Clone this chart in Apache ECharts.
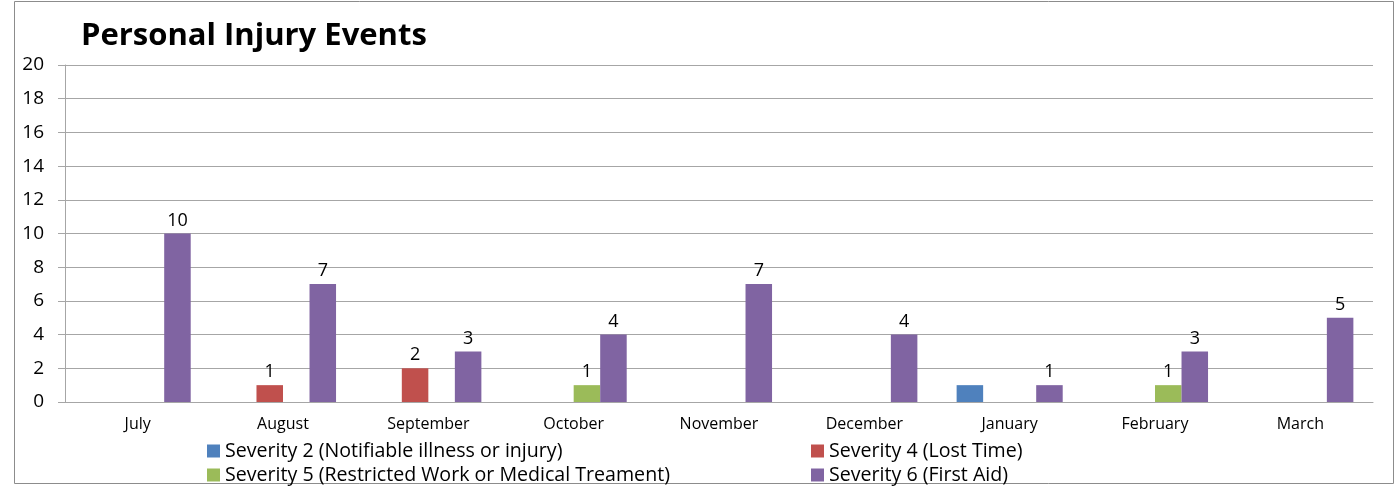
<!DOCTYPE html>
<html>
<head>
<meta charset="utf-8">
<script src="https://cdn.jsdelivr.net/npm/echarts@6/dist/echarts.min.js"></script>
<style>html,body{margin:0;padding:0;background:#fff}#c{width:1395px;height:486px}</style>
</head>
<body>
<div id="c"></div>
<script>
const months = ['July','August','September','October','November','December','January','February','March'];
const seriesNames = ['Severity 2 (Notifiable illness or injury)','Severity 4 (Lost Time)','Severity 5 (Restricted Work or Medical Treament)','Severity 6 (First Aid)'];
const sev2 = [null,null,null,null,null,null,1,null,null];
const sev4 = [null,1,2,null,null,null,null,null,null];
const sev5 = [null,null,null,1,null,null,null,1,null];
const sev6 = [10,7,3,4,7,4,1,3,5];
const yTicks = {min:0,max:20,interval:2};
const colors = ['#4F81BD','#C0504D','#9BBB59','#8064A2'];
const FONT = '"Open Sans", "Noto Sans", sans-serif';

const chart = echarts.init(document.getElementById('c'));
function mk(name, data, color, showLabel){
  return {
    name, type:'bar', data, barGap:'0%', barCategoryGap:'27%',
    itemStyle:{color},
    label:{show:showLabel, position:'top', color:'#000', fontSize:18, fontFamily:FONT, distance:4},
    animation:false
  };
}
function lg(name, left, top){
  return {data:[name], left, top, itemWidth:13, itemHeight:13, icon:'rect',
    textStyle:{fontFamily:FONT, fontSize:19.6, color:'#000'}};
}
chart.setOption({
  animation:false,
  title:{text:'Personal Injury Events', left:76, top:16,
    textStyle:{fontFamily:FONT, fontWeight:'bold', fontSize:31, color:'#000'}},
  graphic:[{type:'rect', shape:{x:14.5,y:1.5,width:1379,height:482},
    style:{fill:'none', stroke:'#8c8c8c', lineWidth:1}, silent:true}],
  legend:[
    lg(seriesNames[0], 202, 436),
    lg(seriesNames[2], 202, 460),
    lg(seriesNames[1], 806, 436),
    lg(seriesNames[3], 806, 460)
  ],
  grid:{left:65, right:22, top:65, bottom:84, containLabel:false},
  xAxis:{type:'category', data:months,
    axisLine:{lineStyle:{color:'#a6a6a6'}}, axisTick:{show:false},
    axisLabel:{fontFamily:FONT, fontSize:16, color:'#000', margin:14}},
  yAxis:{type:'value', min:yTicks.min, max:yTicks.max, interval:yTicks.interval,
    axisLine:{show:true, lineStyle:{color:'#a6a6a6'}},
    axisTick:{show:true, length:7, lineStyle:{color:'#a6a6a6'}},
    splitLine:{lineStyle:{color:'#a6a6a6'}},
    axisLabel:{fontFamily:FONT, fontSize:19, color:'#000', margin:21}},
  series:[
    mk(seriesNames[0], sev2, colors[0], false),
    mk(seriesNames[1], sev4, colors[1], true),
    mk(seriesNames[2], sev5, colors[2], true),
    mk(seriesNames[3], sev6, colors[3], true)
  ]
});
</script>
</body>
</html>
